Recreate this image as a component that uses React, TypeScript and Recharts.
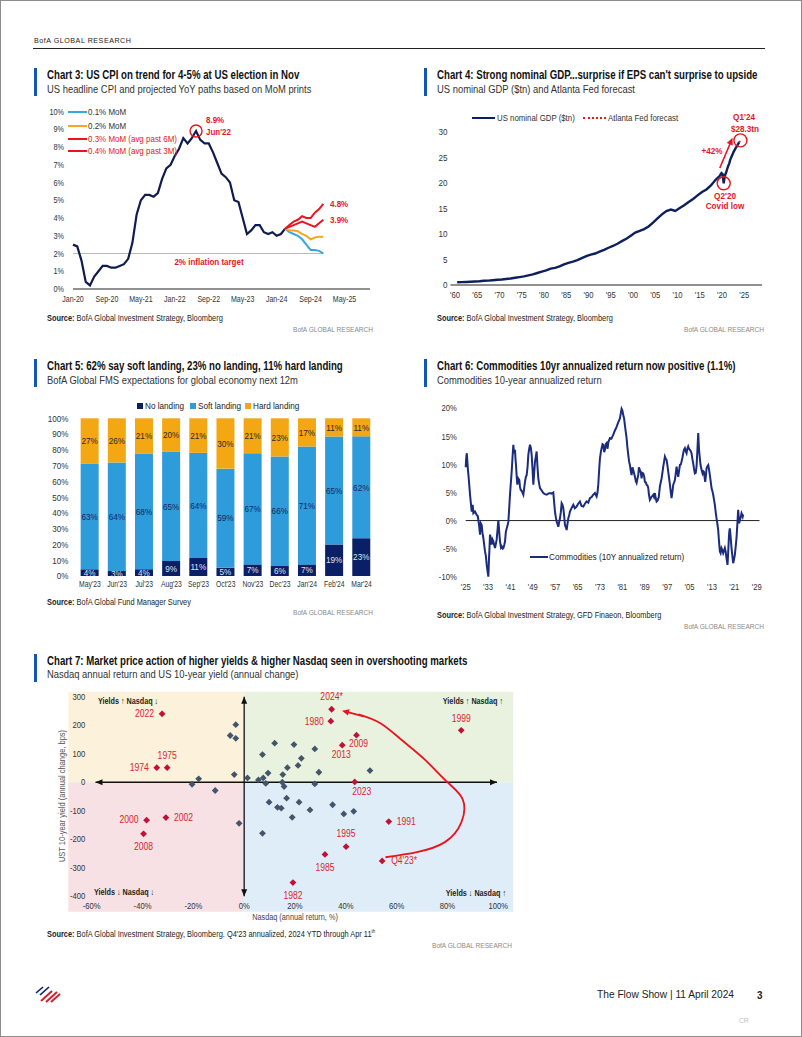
import React from "react";
import {
  Bar,
  BarChart,
  LabelList,
  Line,
  LineChart,
  ReferenceArea,
  ReferenceDot,
  ReferenceLine,
  Scatter,
  ScatterChart,
  XAxis,
  YAxis,
} from "recharts";

const FONT = "'Liberation Sans Narrow', 'Arial Narrow', 'Liberation Sans', sans-serif";
const RED = "#E8141E";
const BOFA_BLUE = "#1256B8";

// ---------- Chart 3: US CPI ----------
const cpiActual = [
  2.5, 2.4, 1.6, 0.4, 0.2, 0.7, 1.0, 1.3, 1.3, 1.2, 1.2, 1.3, 1.4, 1.7, 2.6, 4.2, 5.0, 5.3, 5.3, 5.2,
  5.4, 6.2, 6.8, 7.0, 7.5, 7.9, 8.5, 8.2, 8.5, 8.9, 8.4, 8.2, 8.2, 7.7, 7.1, 6.5, 6.3, 6.0, 5.0, 4.9,
  4.0, 3.1, 3.3, 3.6, 3.6, 3.2, 3.1, 3.2, 3.0, 3.1, 3.4,
];
const cpiProjStart = 50;
const cpiProj01 = [3.4, 3.2, 3.1, 3.0, 2.8, 2.5, 2.2, 2.2, 2.15, 2.0];
const cpiProj02 = [3.4, 3.3, 3.3, 3.25, 3.1, 3.0, 2.8, 2.9, 2.95, 2.95];
const cpiProj03 = [3.4, 3.5, 3.6, 3.7, 3.8, 3.7, 3.6, 3.5, 3.7, 3.9];
const cpiProj04 = [3.4, 3.6, 3.8, 3.9, 4.1, 4.0, 4.0, 4.3, 4.5, 4.8];
const cpiTickIdx = [0, 8, 16, 24, 32, 40, 48, 56, 64];
const cpiTickLabels = ["Jan-20", "Sep-20", "May-21", "Jan-22", "Sep-22", "May-23", "Jan-24", "Sep-24", "May-25"];
const cpiPctTicks = [0, 1, 2, 3, 4, 5, 6, 7, 8, 9, 10];

const cpiRows = Array.from({ length: cpiProjStart + cpiProj01.length }, (_, m) => {
  const j = m - cpiProjStart;
  return {
    m,
    cpi: m < cpiActual.length ? cpiActual[m] : null,
    p01: j >= 0 ? cpiProj01[j] : null,
    p02: j >= 0 ? cpiProj02[j] : null,
    p03: j >= 0 ? cpiProj03[j] : null,
    p04: j >= 0 ? cpiProj04[j] : null,
  };
});

// ---------- Chart 4: US nominal GDP ----------
const gdpX = [
  1960.5, 1961.5, 1962.5, 1963.5, 1964.5, 1965.5, 1966.5, 1967.5, 1968.5, 1969.5,
  1970.5, 1971.5, 1972.5, 1973.5, 1974.5, 1975.5, 1976.5, 1977.5, 1978.5, 1979.5,
  1980.5, 1981.5, 1982.5, 1983.5, 1984.5, 1985.5, 1986.5, 1987.5, 1988.5, 1989.5,
  1990.5, 1991.5, 1992.5, 1993.5, 1994.5, 1995.5, 1996.5, 1997.5, 1998.5, 1999.5,
  2000.5, 2001.5, 2002.5, 2003.5, 2004.5, 2005.5, 2006.5, 2007.5, 2008.5, 2009.5,
  2010.5, 2011.5, 2012.5, 2013.5, 2014.5, 2015.5, 2016.5, 2017.5, 2018.5, 2019.5,
  2019.875, 2020.125, 2020.375, 2020.625, 2020.875, 2021.125, 2021.375, 2021.625, 2021.875,
  2022.125, 2022.375, 2022.625, 2022.875, 2023.125, 2023.375, 2023.625, 2023.875,
];
const gdpTn = [
  0.54, 0.56, 0.6, 0.64, 0.69, 0.74, 0.82, 0.86, 0.94, 1.02,
  1.07, 1.17, 1.28, 1.43, 1.55, 1.68, 1.87, 2.08, 2.35, 2.63,
  2.86, 3.21, 3.34, 3.63, 4.04, 4.34, 4.58, 4.86, 5.24, 5.64,
  5.96, 6.16, 6.52, 6.86, 7.29, 7.64, 8.07, 8.58, 9.06, 9.63,
  10.25, 10.58, 10.94, 11.46, 12.21, 13.04, 13.82, 14.48, 14.77, 14.48,
  15.05, 15.6, 16.25, 16.84, 17.55, 18.21, 18.7, 19.48, 20.53, 21.38,
  21.9, 21.7, 19.9, 21.4, 21.9, 22.6, 23.3, 23.8, 24.6,
  25.1, 25.6, 26.1, 26.5, 26.9, 27.2, 27.6, 27.96,
];
const gdpForecastX = [2023.875, 2024.125];
const gdpForecastTn = [27.96, 28.3];
const gdpYearTicks = [1960, 1965, 1970, 1975, 1980, 1985, 1990, 1995, 2000, 2005, 2010, 2015, 2020, 2025];
const gdpValTicks = [0, 5, 10, 15, 20, 25, 30];

const gdpRows = [
  ...gdpX.map((x, i) => ({ x, gdp: gdpTn[i], fc: x === gdpForecastX[0] ? gdpForecastTn[0] : null })),
  { x: gdpForecastX[1], gdp: null, fc: gdpForecastTn[1] },
];

// ---------- Chart 5: FMS landing ----------
const fmsMonths = ["May'23", "Jun'23", "Jul'23", "Aug'23", "Sep'23", "Oct'23", "Nov'23", "Dec'23", "Jan'24", "Feb'24", "Mar'24"];
const fmsNoLanding = [4, 3, 4, 9, 11, 5, 7, 6, 7, 19, 23];
const fmsSoftLanding = [63, 64, 68, 65, 64, 59, 67, 66, 71, 65, 62];
const fmsHardLanding = [27, 26, 21, 20, 21, 30, 21, 23, 17, 11, 11];
const fmsTicks = [0, 0.1, 0.2, 0.3, 0.4, 0.5, 0.6, 0.7, 0.8, 0.9, 1];

const fmsRows = fmsMonths.map((m, i) => ({
  m,
  no: fmsNoLanding[i],
  soft: fmsSoftLanding[i],
  hard: fmsHardLanding[i],
}));

// ---------- Chart 6: commodities 10y annualized return ----------
const comYears = [
  1925.0, 1925.2, 1925.4, 1925.6, 1925.8, 1926.0, 1926.55, 1927.14, 1927.5, 1927.74, 1928.3, 1928.93, 1929.3, 1929.52,
  1929.8, 1930.12, 1930.4, 1930.71, 1931.0, 1931.31, 1931.6, 1931.9, 1932.2, 1932.5, 1932.8, 1933.1, 1933.3, 1933.45,
  1933.69, 1934.0, 1934.29, 1934.6, 1934.88, 1935.2, 1935.48, 1935.8, 1936.07, 1936.4, 1936.67, 1937.0, 1937.26, 1937.6,
  1937.86, 1938.2, 1938.45, 1938.8, 1939.05, 1939.35, 1939.64, 1939.95, 1940.24, 1940.5, 1940.83, 1941.1, 1941.43, 1941.7,
  1942.02, 1942.3, 1942.62, 1942.8, 1942.98, 1943.2, 1943.45, 1943.8, 1944.17, 1944.4, 1944.64, 1945.1, 1945.6, 1945.9,
  1946.19, 1946.5, 1946.79, 1947.1, 1947.38, 1947.7, 1947.98, 1948.3, 1948.57, 1948.9, 1949.17, 1949.4, 1949.76, 1950.1,
  1950.36, 1950.6, 1950.95, 1951.3, 1951.55, 1952.2, 1952.74, 1953.3, 1953.93, 1954.5, 1955.12, 1955.7, 1956.31, 1956.6,
  1956.9, 1957.2, 1957.5, 1957.8, 1958.1, 1958.4, 1958.69, 1959.0, 1959.29, 1959.6, 1959.88, 1960.2, 1960.48, 1960.8,
  1961.07, 1961.4, 1961.67, 1962.0, 1962.26, 1962.9, 1963.45, 1964.0, 1964.64, 1965.2, 1965.83, 1966.4, 1967.02, 1967.6,
  1968.21, 1968.8, 1969.4, 1970.0, 1970.6, 1971.2, 1971.79, 1972.1, 1972.38, 1972.7, 1972.98, 1973.3, 1973.57, 1973.9,
  1974.17, 1974.5, 1974.76, 1975.05, 1975.36, 1975.7, 1976.0, 1976.55, 1977.1, 1977.74, 1978.3, 1978.93, 1979.5, 1980.12,
  1980.4, 1980.71, 1981.0, 1981.31, 1981.6, 1981.9, 1982.2, 1982.5, 1982.8, 1983.1, 1983.4, 1983.69, 1984.0, 1984.29,
  1984.6, 1984.88, 1985.2, 1985.48, 1985.8, 1986.07, 1986.4, 1986.67, 1986.9, 1987.26, 1987.6, 1987.86, 1988.1, 1988.45,
  1988.8, 1989.05, 1989.4, 1989.64, 1990.0, 1990.24, 1990.5, 1990.83, 1991.4, 1992.02, 1992.3, 1992.62, 1992.9, 1993.21,
  1993.6, 1994.0, 1994.4, 1995.0, 1995.3, 1995.6, 1995.9, 1996.19, 1996.5, 1996.79, 1997.1, 1997.38, 1997.7, 1997.98,
  1998.3, 1998.57, 1998.9, 1999.17, 1999.5, 1999.76, 2000.1, 2000.36, 2000.7, 2000.95, 2001.3, 2001.55, 2001.9, 2002.14,
  2002.45, 2002.74, 2003.0, 2003.33, 2003.6, 2003.93, 2004.2, 2004.52, 2004.8, 2005.12, 2005.4, 2005.71, 2006.0, 2006.31,
  2006.6, 2006.9, 2007.2, 2007.5, 2007.8, 2008.1, 2008.3, 2008.45, 2008.7, 2008.93, 2009.3, 2009.64, 2009.9, 2010.12,
  2010.35, 2010.6, 2010.85, 2011.07, 2011.4, 2011.67, 2012.0, 2012.26, 2012.55, 2012.86, 2013.2, 2013.45, 2013.75, 2014.05,
  2014.35, 2014.64, 2014.95, 2015.24, 2015.5, 2015.83, 2016.1, 2016.43, 2016.7, 2017.02, 2017.3, 2017.62, 2017.9, 2018.21,
  2018.4, 2018.57, 2018.8, 2019.05, 2019.2, 2019.4, 2019.7, 2020.0, 2020.3, 2020.6, 2020.9, 2021.19, 2021.5, 2021.79,
  2022.1, 2022.38, 2022.55, 2022.74, 2022.95, 2023.21, 2023.57, 2023.8, 2024.0, 2024.17,
];
const comReturn = [
  9.5, 11.2, 12.0, 10.5, 9.0, 8.0, 4.6, 1.6, 2.8, 1.3, 1.6, 1.0, 0.8, 0.1,
  -0.9, -2.5, -0.5, -0.8, -2.2, -3.1, -4.3, -5.5, -6.3, -7.9, -9.0, -10.0, -7.0, -5.5,
  -2.5, -3.2, -4.3, -3.4, -3.7, -4.4, -4.9, -4.1, -3.4, -1.5, 0.1, -2.2, -3.7, -4.8,
  -4.6, -5.0, -4.9, -4.3, -3.7, -2.0, -1.4, -0.9, -0.2, 1.8, 4.6, 6.5, 8.7, 11.0,
  13.5, 12.0, 12.6, 11.0, 9.9, 8.0, 6.4, 7.5, 7.2, 6.0, 5.5, 5.2, 4.6, 5.8,
  6.9, 7.8, 8.1, 9.5, 11.7, 12.8, 13.5, 12.9, 11.7, 9.0, 6.4, 8.0, 10.5, 11.5,
  12.3, 10.0, 7.5, 6.4, 5.8, 5.3, 4.9, 4.7, 4.6, 4.8, 4.9, 4.8, 5.0, 3.3,
  1.6, 0.6, -0.2, -0.6, -1.1, -0.3, 0.4, 1.5, 3.1, 2.8, 2.2, 0.8, -0.8, -1.2,
  -1.7, -0.5, 0.4, 1.0, 1.6, 2.3, 2.8, 2.2, 2.5, 3.0, 3.4, 2.6, 2.5, 3.0,
  3.4, 3.2, 4.0, 4.2, 4.6, 4.9, 4.3, 5.0, 6.4, 9.0, 11.1, 12.2, 12.9, 13.6,
  13.5, 12.2, 12.6, 13.6, 13.8, 12.8, 14.0, 14.7, 14.6, 15.3, 16.0, 16.7, 17.5, 18.2,
  19.0, 19.9, 19.6, 18.8, 18.2, 17.0, 15.8, 14.7, 13.0, 11.7, 10.5, 9.9, 8.8, 8.1,
  9.5, 9.0, 8.4, 7.8, 7.0, 6.7, 7.5, 8.1, 9.5, 9.0, 8.5, 7.5, 8.5, 8.4,
  7.8, 6.9, 6.8, 6.4, 6.2, 5.8, 4.6, 3.7, 4.2, 4.6, 4.2, 4.9, 4.0, 3.4,
  3.6, 4.2, 6.1, 7.5, 8.5, 9.6, 10.5, 11.4, 11.0, 10.8, 9.8, 8.7, 7.5, 6.4,
  5.0, 4.0, 5.2, 6.4, 6.8, 7.2, 8.5, 9.6, 8.5, 7.8, 9.0, 9.9, 10.0, 10.5,
  11.2, 12.0, 12.6, 12.9, 12.4, 12.0, 12.8, 13.2, 12.8, 12.6, 12.4, 12.0, 11.0, 10.2,
  9.2, 8.4, 8.5, 9.6, 12.5, 15.6, 13.5, 12.3, 11.0, 9.9, 9.0, 8.4, 8.8, 8.7,
  7.8, 6.9, 8.0, 9.3, 9.7, 9.9, 9.0, 8.1, 7.0, 5.8, 5.2, 4.6, 3.7, 2.8,
  1.5, 0.4, -0.6, -1.7, -3.5, -5.5, -5.8, -4.9, -5.2, -5.8, -5.4, -4.9, -5.5, -6.7,
  -7.3, -7.9, -5.8, -3.1, -2.0, -1.4, -3.0, -4.9, -6.3, -7.6, -6.9, -6.1, -4.6, -3.1,
  -0.5, 1.9, 0.8, -0.5, 0.0, 0.4, 1.3, 1.0, 0.7, 1.1,
];
const comYearTicks = [1925, 1933, 1941, 1949, 1957, 1965, 1973, 1981, 1989, 1997, 2005, 2013, 2021, 2029];
const comPctTicks = [-10, -5, 0, 5, 10, 15, 20];
const comRows = comYears.map((y, i) => ({ y, r: comReturn[i] }));

// ---------- Chart 7: Nasdaq vs UST yield ----------
const grayNasdaq = [
  -0.205, -0.179, -0.114, -0.033, -0.055, -0.033, -0.039, -0.02, 0.013, 0.072, 0.12, 0.196, 0.056, 0.075,
  0.094, 0.085, 0.152, 0.17, 0.15, 0.157, 0.212, 0.225, 0.278, 0.294, 0.278, 0.495, 0.098, 0.131,
  0.146, 0.167, 0.216, 0.189, 0.259, 0.348, 0.392, 0.431, 0.072,
];
const grayYield = [
  -7, 12, -29, 202, 164, 154, 27, -144, 15, 97, 137, 132, 8, 15,
  32, -4, 27, 51, 0, -15, 59, 84, 117, 35, -6, 41, -70, -88,
  -91, -56, -70, -123, -97, -79, -111, -102, -179,
];
const redLabels = ["2022", "1974", "1975", "2000", "2002", "2008", "2024*", "1980", "2009", "2013", "2023", "1999", "1991", "1995", "1985", "Q4'23*", "1982"];
const redNasdaq = [-0.323, -0.344, -0.303, -0.384, -0.308, -0.396, 0.344, 0.341, 0.442, 0.386, 0.435, 0.854, 0.569, 0.401, 0.318, 0.543, 0.192];
const redYield = [240, 51, 51, -133, -124, -181, 256, 214, 165, 130, 1, 182, -138, -226, -253, -276, -352];
// path of the hand-drawn red arrow from Q4'23* up to 2024*
const arrowNasdaq = [0.556, 0.68, 0.79, 0.855, 0.86, 0.8, 0.71, 0.62, 0.536, 0.45];
const arrowYield = [-263, -245, -210, -140, -60, 0, 80, 148, 207, 238];
const nasdaqTicks = [-0.6, -0.4, -0.2, 0, 0.2, 0.4, 0.6, 0.8, 1];
const yieldTicks = [-400, -300, -200, -100, 0, 100, 200, 300];

const grayPts = grayNasdaq.map((x, i) => ({ x, y: grayYield[i] }));
const redPts = redLabels.map((label, i) => ({ x: redNasdaq[i], y: redYield[i], label }));
const arrowPts = arrowNasdaq.map((x, i) => ({ x, y: arrowYield[i] }));

// label placement around the red points: [dx, dy, anchor]
const redLabelPlace: Record<string, [number, number, string]> = {
  "2022": [-8, 0, "end"],
  "1974": [-8, 0, "end"],
  "1975": [0, -12, "middle"],
  "2000": [-8, 0, "end"],
  "2002": [8, 0, "start"],
  "2008": [0, 13, "middle"],
  "2024*": [0, -12, "middle"],
  "1980": [-7, 1, "end"],
  "2009": [2, 9, "middle"],
  "2013": [-1, 10, "middle"],
  "2023": [7, 10, "middle"],
  "1999": [0, -12, "middle"],
  "1991": [8, 0, "start"],
  "1995": [0, -13, "middle"],
  "1985": [0, 13, "middle"],
  "Q4'23*": [9, 0, "start"],
  "1982": [0, 13, "middle"],
};

// ---------- helpers ----------
// the report font is condensed; squeeze Liberation Sans horizontally
const mkTick = (size: number, fmt?: (v: any) => string, sx = 0.85) => (p: any) => {
  const { x, y, payload, textAnchor, verticalAnchor } = p;
  const v = fmt ? fmt(payload.value) : payload.value;
  const dy = verticalAnchor === "start" ? "0.71em" : verticalAnchor === "end" ? "0" : "0.355em";
  return (
    <text
      transform={`translate(${x},${y}) scale(${sx},1)`}
      textAnchor={textAnchor}
      dy={dy}
      fontSize={size}
      fill="#333"
      fontFamily={FONT}
    >
      {v}
    </text>
  );
};

const pct = (v: number) => `${v}%`;
const pct100 = (v: number) => `${Math.round(v * 100)}%`;
const shortYear = (v: number) => `'${String(v).slice(2)}`;

function Txt({ x, y, size = 9, color = "#222", bold = false, anchor = "start", sx = 0.85, children, style }: any) {
  const tr = anchor === "middle" ? "translate(-50%,-50%)" : anchor === "end" ? "translate(-100%,-50%)" : "translateY(-50%)";
  const origin = anchor === "middle" ? "center center" : anchor === "end" ? "right center" : "left center";
  return (
    <div
      style={{
        position: "absolute",
        left: x,
        top: y,
        transform: `${tr} scaleX(${sx})`,
        transformOrigin: origin,
        fontSize: size,
        lineHeight: 1,
        color,
        fontWeight: bold ? 700 : 400,
        whiteSpace: "nowrap",
        fontFamily: FONT,
        ...style,
      }}
    >
      {children}
    </div>
  );
}

function Heading({ x, y, title, sub }: { x: number; y: number; title: string; sub: string }) {
  return (
    <>
      <div style={{ position: "absolute", left: x - 13, top: y - 7, width: 3, height: 28, background: BOFA_BLUE }} />
      <Txt x={x} y={y} size={12} bold color="#111" sx={0.805}>{title}</Txt>
      <Txt x={x} y={y + 13.5} size={11} color="#333" sx={0.855}>{sub}</Txt>
    </>
  );
}

function Source({ x, y, text, right, ry }: any) {
  return (
    <>
      <Txt x={x} y={y} size={8.5} color="#222" sx={0.87}>
        <b>Source:</b> {text}
      </Txt>
      <Txt x={right} y={ry} size={8} color="#8a8a8a" anchor="end" sx={0.82}>
        BofA GLOBAL RESEARCH
      </Txt>
    </>
  );
}

const headPoints = (x: number, y: number, a: number, len = 6, half = 3) => {
  const bx = x - len * Math.cos(a);
  const by = y - len * Math.sin(a);
  return `${x},${y} ${bx - half * Math.sin(a)},${by + half * Math.cos(a)} ${bx + half * Math.sin(a)},${by - half * Math.cos(a)}`;
};

const ArrowShape = (color: string, width: number) => (p: any) => {
  const { x1, y1, x2, y2 } = p;
  const a = Math.atan2(y2 - y1, x2 - x1);
  return (
    <g>
      <line x1={x1} y1={y1} x2={x2 - 5 * Math.cos(a)} y2={y2 - 5 * Math.sin(a)} stroke={color} strokeWidth={width} />
      <polygon points={headPoints(x2, y2, a, 7, 3.2)} fill={color} />
    </g>
  );
};

const DoubleArrow = (p: any) => {
  const { x1, y1, x2, y2 } = p;
  const a = Math.atan2(y2 - y1, x2 - x1);
  return (
    <g>
      <line x1={x1} y1={y1} x2={x2} y2={y2} stroke="#111" strokeWidth={1.3} />
      <polygon points={headPoints(x2, y2, a, 7, 3)} fill="#111" />
      <polygon points={headPoints(x1, y1, a + Math.PI, 7, 3)} fill="#111" />
    </g>
  );
};

const diamondPath = (cx: number, cy: number, r: number) =>
  `M${cx},${cy - r}L${cx + r},${cy}L${cx},${cy + r}L${cx - r},${cy}Z`;

const GrayDiamond = (p: any) => <path d={diamondPath(p.cx, p.cy, 3.4)} fill="#44546A" />;
const NoShape = () => <g />;
const RedPoint = (p: any) => {
  const { cx, cy, payload } = p;
  const [dx, dy, anchor] = redLabelPlace[payload.label] ?? [0, -12, "middle"];
  return (
    <g>
      <path d={diamondPath(cx, cy, 3.4)} fill="#C01238" />
      <text
        transform={`translate(${cx + dx},${cy + dy}) scale(0.86,1)`}
        textAnchor={anchor}
        dominantBaseline="central"
        fontSize={10}
        fill="#E0222E"
        fontFamily={FONT}
      >
        {payload.label}
      </text>
    </g>
  );
};

const barLabel = (color: string) => (p: any) => {
  const { x, y, width, height, value } = p;
  return (
    <text
      transform={`translate(${x + width / 2},${y + height / 2}) scale(0.86,1)`}
      textAnchor="middle"
      dominantBaseline="central"
      fontSize={9.5}
      fill={color}
      fontFamily={FONT}
    >
      {value}%
    </text>
  );
};

const cpiLegend = [
  { name: "0.1% MoM", color: "#35A8E0", text: "#333", y: 112.3 },
  { name: "0.2% MoM", color: "#F5A623", text: "#333", y: 125.7 },
  { name: "0.3% MoM (avg past 6M)", color: RED, text: RED, y: 139 },
  { name: "0.4% MoM (avg past 3M)", color: RED, text: RED, y: 150.7 },
];

const fmsLegend = [
  { name: "No landing", color: "#0B1F66", x: 137 },
  { name: "Soft landing", color: "#2E9BDA", x: 190 },
  { name: "Hard landing", color: "#F3A712", x: 245 },
];

export default function App() {
  return (
    <div
      style={{
        position: "absolute",
        left: 0,
        top: 0,
        width: 802,
        height: 1037,
        background: "#fff",
        overflow: "hidden",
        fontFamily: FONT,
      }}
    >
      {/* page header */}
      <Txt x={34} y={41} size={8} color="#222" sx={0.89} style={{ letterSpacing: 0.6 }}>BofA GLOBAL RESEARCH</Txt>
      <div style={{ position: "absolute", left: 33, top: 47.5, width: 732, height: 1.5, background: "#222" }} />

      {/* ---------------- Chart 3 ---------------- */}
      <Heading x={47} y={75} title="Chart 3: US CPI on trend for 4-5% at US election in Nov" sub="US headline CPI and projected YoY paths based on MoM prints" />
      <div style={{ position: "absolute", left: 38, top: 100 }}>
        <LineChart width={340} height={222} data={cpiRows} margin={{ top: 11.5, right: 8, bottom: 8, left: 0 }}>
          <XAxis
            type="number"
            dataKey="m"
            domain={[0, 70]}
            ticks={cpiTickIdx}
            interval={0}
            axisLine={{ stroke: "#222", strokeWidth: 1.2 }}
            tickLine={false}
            tickSize={0}
            tickMargin={7}
            height={25}
            tick={mkTick(8.6, (v) => cpiTickLabels[cpiTickIdx.indexOf(v)], 0.82)}
          />
          <YAxis
            domain={[0, 10]}
            ticks={cpiPctTicks}
            interval={0}
            width={35}
            axisLine={false}
            tickLine={false}
            tickSize={0}
            tickMargin={9}
            tick={mkTick(8.6, pct)}
          />
          <ReferenceLine segment={[{ x: 0, y: 2 }, { x: 59, y: 2 }]} stroke="#b8b8b8" strokeWidth={1.2} ifOverflow="visible" />
          <Line dataKey="cpi" stroke="#101C4E" strokeWidth={2.2} dot={false} isAnimationActive={false} />
          <Line dataKey="p01" stroke="#35A8E0" strokeWidth={2} dot={false} isAnimationActive={false} />
          <Line dataKey="p02" stroke="#F5A623" strokeWidth={2} dot={false} isAnimationActive={false} />
          <Line dataKey="p03" stroke={RED} strokeWidth={2} dot={false} isAnimationActive={false} />
          <Line dataKey="p04" stroke={RED} strokeWidth={2} dot={false} isAnimationActive={false} />
          <ReferenceDot x={29} y={8.9} r={6} fill="none" stroke={RED} strokeWidth={1.4} />
        </LineChart>
      </div>
      {cpiLegend.map((l) => (
        <React.Fragment key={l.name}>
          <div style={{ position: "absolute", left: 68, top: l.y - 1, width: 19, height: 2, background: l.color }} />
          <Txt x={88} y={l.y} size={9.4} color={l.text}>{l.name}</Txt>
        </React.Fragment>
      ))}
      <Txt x={206} y={120} size={9.5} bold color={RED} sx={0.84}>8.9%</Txt>
      <Txt x={206} y={131.5} size={9.5} bold color={RED} sx={0.84}>Jun'22</Txt>
      <Txt x={330} y={203.5} size={9.5} bold color={RED} sx={0.84}>4.8%</Txt>
      <Txt x={330} y={220} size={9.5} bold color={RED} sx={0.84}>3.9%</Txt>
      <Txt x={209} y={261.7} size={9.5} bold color={RED} anchor="middle" sx={0.84}>2% inflation target</Txt>
      <Source x={47} y={317.5} text="BofA Global Investment Strategy, Bloomberg" right={373} ry={330} />

      {/* ---------------- Chart 4 ---------------- */}
      <Heading x={437} y={75} title="Chart 4: Strong nominal GDP...surprise if EPS can't surprise to upside" sub="US nominal GDP ($tn) and Atlanta Fed forecast" />
      <div style={{ position: "absolute", left: 420, top: 100 }}>
        <LineChart width={350} height={215} data={gdpRows} margin={{ top: 31.7, right: 7.9, bottom: 5, left: 0 }}>
          <XAxis
            type="number"
            dataKey="x"
            domain={[1959, 2029]}
            ticks={gdpYearTicks}
            interval={0}
            axisLine={{ stroke: "#222", strokeWidth: 1.2 }}
            tickLine={false}
            tickSize={0}
            tickMargin={7}
            height={25}
            tick={mkTick(9, shortYear)}
          />
          <YAxis
            domain={[0, 30]}
            ticks={gdpValTicks}
            interval={0}
            width={30.5}
            axisLine={false}
            tickLine={false}
            tickSize={0}
            tickMargin={3}
            tick={mkTick(9.5)}
          />
          <Line dataKey="gdp" stroke="#0D1F5E" strokeWidth={2.4} dot={false} isAnimationActive={false} />
          <Line dataKey="fc" stroke={RED} strokeWidth={1.8} strokeDasharray="1.5 1.5" dot={false} isAnimationActive={false} connectNulls />
          <ReferenceDot x={2024.125} y={28.3} r={6.5} fill="none" stroke={RED} strokeWidth={1.4} />
          <ReferenceDot x={2020.375} y={19.9} r={6.5} fill="none" stroke={RED} strokeWidth={1.4} />
          <ReferenceLine segment={[{ x: 2019.5, y: 22.9 }, { x: 2022.35, y: 28.8 }]} shape={ArrowShape(RED, 1.6)} ifOverflow="visible" />
        </LineChart>
      </div>
      <div style={{ position: "absolute", left: 472, top: 116.5, width: 23, height: 2.5, background: "#0D1F5E" }} />
      <Txt x={497} y={117.7} size={9} color="#333" sx={0.87}>US nominal GDP ($tn)</Txt>
      <div style={{ position: "absolute", left: 583, top: 116.5, width: 23, height: 0, borderTop: `2px dotted ${RED}` }} />
      <Txt x={608} y={117.7} size={9} color="#333" sx={0.87}>Atlanta Fed forecast</Txt>
      <Txt x={744} y={117.3} size={9.5} bold color={RED} anchor="middle" sx={0.86}>Q1'24</Txt>
      <Txt x={745} y={128.8} size={9.5} bold color={RED} anchor="middle" sx={0.86}>$28.3tn</Txt>
      <Txt x={712} y={150.5} size={9.5} bold color={RED} anchor="middle" sx={0.86}>+42%</Txt>
      <Txt x={724.5} y={196} size={9.5} bold color={RED} anchor="middle" sx={0.86}>Q2'20</Txt>
      <Txt x={724.5} y={206.3} size={9.5} bold color={RED} anchor="middle" sx={0.86}>Covid low</Txt>
      <Source x={437} y={317.5} text="BofA Global Investment Strategy, Bloomberg" right={763.5} ry={329.5} />

      {/* ---------------- Chart 5 ---------------- */}
      <Heading x={47} y={366} title="Chart 5: 62% say soft landing, 23% no landing, 11% hard landing" sub="BofA Global FMS expectations for global economy next 12m" />
      {fmsLegend.map((l) => (
        <React.Fragment key={l.name}>
          <div style={{ position: "absolute", left: l.x, top: 402.7, width: 6, height: 6, background: l.color }} />
          <Txt x={l.x + 8} y={405.7} size={9.5} color="#222" sx={0.86}>{l.name}</Txt>
        </React.Fragment>
      ))}
      <div style={{ position: "absolute", left: 30, top: 405 }}>
        <BarChart
          width={350}
          height={195}
          data={fmsRows}
          stackOffset="expand"
          barCategoryGap="16%"
          margin={{ top: 13.3, right: 4.9, bottom: 4, left: 0 }}
        >
          <XAxis
            dataKey="m"
            interval={0}
            axisLine={false}
            tickLine={false}
            tickSize={0}
            tickMargin={5}
            height={20}
            tick={mkTick(8.5, undefined, 0.8)}
          />
          <YAxis
            domain={[0, 1]}
            ticks={fmsTicks}
            interval={0}
            width={46.3}
            axisLine={false}
            tickLine={false}
            tickSize={0}
            tickMargin={8}
            tick={mkTick(9.5, pct100)}
          />
          <Bar dataKey="no" name="No landing" stackId="a" fill="#0B1F66" isAnimationActive={false}>
            <LabelList dataKey="no" content={barLabel("#dfe3ef")} />
          </Bar>
          <Bar dataKey="soft" name="Soft landing" stackId="a" fill="#2E9BDA" isAnimationActive={false}>
            <LabelList dataKey="soft" content={barLabel("#13285e")} />
          </Bar>
          <Bar dataKey="hard" name="Hard landing" stackId="a" fill="#F3A712" isAnimationActive={false}>
            <LabelList dataKey="hard" content={barLabel("#2a2a2a")} />
          </Bar>
        </BarChart>
      </div>
      <Source x={47} y={601.5} text="BofA Global Fund Manager Survey" right={373} ry={612.5} />

      {/* ---------------- Chart 6 ---------------- */}
      <Heading x={437} y={366} title="Chart 6: Commodities 10yr annualized return now positive (1.1%)" sub="Commodities 10-year annualized return" />
      <div style={{ position: "absolute", left: 415, top: 395 }}>
        <LineChart width={355} height={205} data={comRows} margin={{ top: 13.3, right: 13.3, bottom: 3.3, left: 0 }}>
          <XAxis
            type="number"
            dataKey="y"
            domain={[1925, 2029]}
            ticks={comYearTicks}
            interval={0}
            axisLine={false}
            tickLine={false}
            tickSize={0}
            tickMargin={7}
            height={20}
            tick={mkTick(9, shortYear)}
          />
          <YAxis
            domain={[-10, 20]}
            ticks={comPctTicks}
            interval={0}
            width={50.7}
            axisLine={false}
            tickLine={false}
            tickSize={0}
            tickMargin={9}
            tick={mkTick(9, pct)}
          />
          <ReferenceLine segment={[{ x: 1925, y: 0 }, { x: 2030, y: 0 }]} stroke="#222" strokeWidth={1} ifOverflow="visible" />
          <Line dataKey="r" stroke="#1B2B7E" strokeWidth={2} dot={false} isAnimationActive={false} />
        </LineChart>
      </div>
      <div style={{ position: "absolute", left: 530, top: 556.2, width: 18, height: 2.2, background: "#1B2B7E" }} />
      <Txt x={549} y={557.3} size={9.5} color="#222" sx={0.86}>Commodities (10Y annualized return)</Txt>
      <Source x={437} y={614.5} text="BofA Global Investment Strategy, GFD Finaeon, Bloomberg" right={763.5} ry={626.7} />

      {/* ---------------- Chart 7 ---------------- */}
      <Heading x={47} y={660.7} title="Chart 7: Market price action of higher yields & higher Nasdaq seen in overshooting markets" sub="Nasdaq annual return and US 10-year yield (annual change)" />
      <div style={{ position: "absolute", left: 40, top: 685 }}>
        <ScatterChart width={480} height={240} margin={{ top: 11.7, right: 21.7, bottom: 8.7, left: 31.7 }}>
          <ReferenceArea x1={-0.692} x2={0} y1={0} y2={317.5} fill="#FCF1DA" fillOpacity={1} stroke="none" ifOverflow="visible" />
          <ReferenceArea x1={0} x2={1.059} y1={0} y2={317.5} fill="#E8F2DF" fillOpacity={1} stroke="none" ifOverflow="visible" />
          <ReferenceArea x1={-0.692} x2={0} y1={-454} y2={0} fill="#F8E1E4" fillOpacity={1} stroke="none" ifOverflow="visible" />
          <ReferenceArea x1={0} x2={1.059} y1={-454} y2={0} fill="#DFEDF8" fillOpacity={1} stroke="none" ifOverflow="visible" />
          <XAxis
            type="number"
            dataKey="x"
            domain={[-0.6, 1]}
            ticks={nasdaqTicks}
            interval={0}
            axisLine={false}
            tickLine={false}
            tickSize={0}
            tickMargin={6.5}
            height={20}
            tick={mkTick(9, pct100)}
          />
          <YAxis
            type="number"
            dataKey="y"
            domain={[-400, 300]}
            ticks={yieldTicks}
            interval={0}
            width={20}
            axisLine={false}
            tickLine={false}
            tickSize={0}
            tickMargin={6.5}
            tick={mkTick(9)}
          />
          <ReferenceLine segment={[{ x: -0.585, y: 0 }, { x: 0.995, y: 0 }]} shape={DoubleArrow} ifOverflow="visible" />
          <ReferenceLine segment={[{ x: 0, y: -400 }, { x: 0, y: 300 }]} shape={DoubleArrow} ifOverflow="visible" />
          <Scatter data={grayPts} shape={GrayDiamond} isAnimationActive={false} />
          <Scatter
            data={arrowPts}
            shape={NoShape}
            line={{ stroke: RED, strokeWidth: 1.8 }}
            lineJointType="natural"
            isAnimationActive={false}
          />
          <ReferenceLine segment={[{ x: 0.47, y: 231 }, { x: 0.385, y: 251 }]} shape={ArrowShape(RED, 1.8)} ifOverflow="visible" />
          <Scatter data={redPts} shape={RedPoint} isAnimationActive={false} />
        </ScatterChart>
      </div>
      <Txt x={98} y={700.7} size={9} bold color="#222" sx={0.8}>Yields ↑ Nasdaq ↓</Txt>
      <Txt x={94} y={892} size={9} bold color="#222" sx={0.8}>Yields ↓ Nasdaq ↓</Txt>
      <Txt x={503} y={700.7} size={9} bold color="#222" anchor="end" sx={0.8}>Yields ↑ Nasdaq ↑</Txt>
      <Txt x={506} y={893} size={9} bold color="#222" anchor="end" sx={0.8}>Yields ↓ Nasdaq ↑</Txt>
      <Txt x={61.5} y={796} size={8.5} color="#555" anchor="middle" sx={1} style={{ transform: "translate(-50%,-50%) rotate(-90deg) scaleX(0.88)" }}>
        UST 10-year yield (annual change, bps)
      </Txt>
      <Txt x={295} y={917} size={8.5} color="#444" anchor="middle" sx={0.86}>Nasdaq (annual return, %)</Txt>
      <Txt x={47} y={934} size={8.5} color="#222" sx={0.87}>
        <b>Source:</b> BofA Global Investment Strategy, Bloomberg. Q4'23 annualized, 2024 YTD through Apr 11<sup style={{ fontSize: 5 }}>th</sup>
      </Txt>
      <Txt x={512} y={946} size={8} color="#8a8a8a" anchor="end" sx={0.82}>BofA GLOBAL RESEARCH</Txt>

      {/* page footer */}
      <svg width={32} height={20} style={{ position: "absolute", left: 33, top: 984 }}>
        <path d="M3 9 L10 3" stroke="#0B1F66" strokeWidth={1.6} />
        <path d="M7 11 L16 3" stroke="#0B1F66" strokeWidth={1.6} />
        <path d="M8 17 L19 7" stroke="#D81E2C" strokeWidth={2} />
        <path d="M13 18 L24 8" stroke="#D81E2C" strokeWidth={2} />
        <path d="M18 18 L27 10" stroke="#D81E2C" strokeWidth={2} />
      </svg>
      <Txt x={734} y={995} size={11.3} color="#222" anchor="end" sx={0.9}>The Flow Show | 11 April 2024</Txt>
      <Txt x={757} y={995} size={11} bold color="#222" sx={0.9}>3</Txt>
      <Txt x={739} y={1021} size={7.5} color="#c0c0c0" sx={0.9}>CR</Txt>
      <div style={{ position: "absolute", inset: 0, border: "1px solid #8c8c8c", pointerEvents: "none" }} />
    </div>
  );
}
